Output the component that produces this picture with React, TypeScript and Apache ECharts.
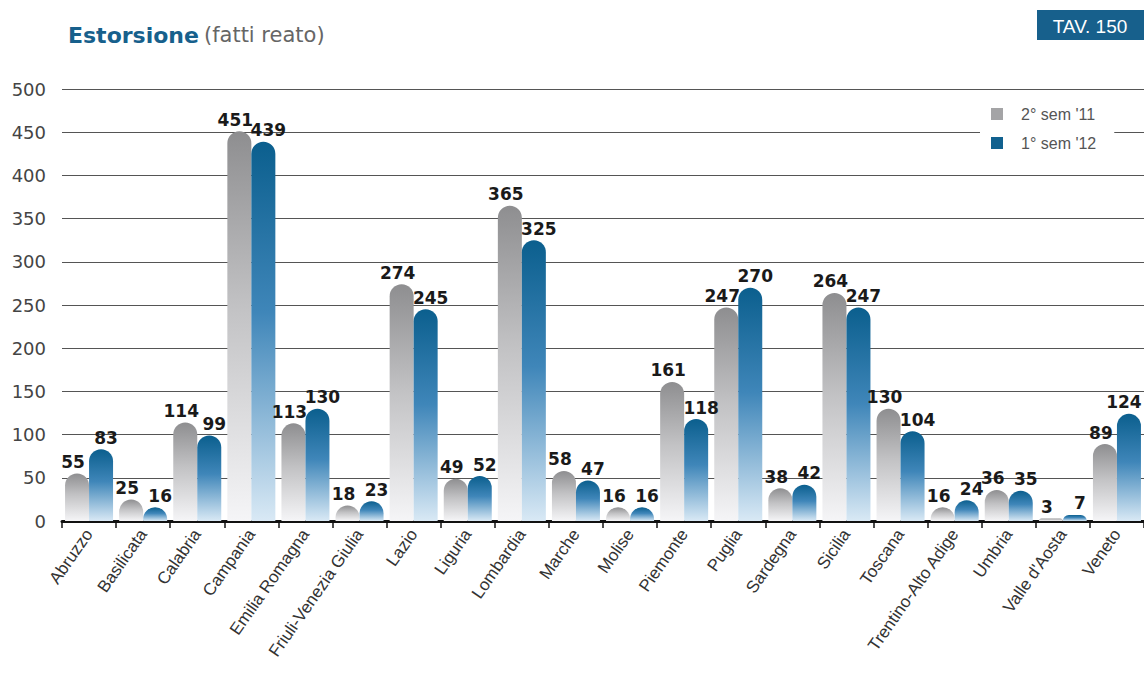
import React, { useEffect, useRef } from "react";
import * as echarts from "echarts";

const categories = [
  "Abruzzo", "Basilicata", "Calabria", "Campania", "Emilia Romagna",
  "Friuli-Venezia Giulia", "Lazio", "Liguria", "Lombardia", "Marche",
  "Molise", "Piemonte", "Puglia", "Sardegna", "Sicilia", "Toscana",
  "Trentino-Alto Adige", "Umbria", "Valle d'Aosta", "Veneto",
];
const sem2_11 = [55, 25, 114, 451, 113, 18, 274, 49, 365, 58, 16, 161, 247, 38, 264, 130, 16, 36, 3, 89];
const sem1_12 = [83, 16, 99, 439, 130, 23, 245, 52, 325, 47, 16, 118, 270, 42, 247, 104, 24, 35, 7, 124];
const seriesNames = ["2° sem '11", "1° sem '12"];

export default function App() {
  const ref = useRef<HTMLDivElement>(null);
  useEffect(() => {
    if (!ref.current) return;
    const chart = echarts.init(ref.current, null, { renderer: "svg" });
    const grayGrad = new echarts.graphic.LinearGradient(0, 0, 0, 1, [
      { offset: 0, color: "#8e8e90" },
      { offset: 0.45, color: "#c2c2c4" },
      { offset: 1, color: "#f5f5f7" },
    ]);
    const blueGrad = new echarts.graphic.LinearGradient(0, 0, 0, 1, [
      { offset: 0, color: "#0b5f8e" },
      { offset: 0.45, color: "#3f86b9" },
      { offset: 1, color: "#d9e9f5" },
    ]);
    const labelStyle = (dx: number) => ({
      show: true,
      position: "top" as const,
      distance: 3,
      offset: [dx, 0],
      color: "#1a1a1a",
      fontFamily: "DejaVu Sans, sans-serif",
      fontWeight: "bold" as const,
      fontSize: 17,
    });
    const sans = "Liberation Sans, Arial, sans-serif";
    const last = categories.length - 1;
    const blueData = sem1_12.map((v, i) =>
      i === last ? { value: v, label: { offset: [-5, 0] } } : v
    );
    chart.setOption({
      animation: false,
      backgroundColor: "#ffffff",
      title: {
        left: 63,
        top: 19,
        text: "{a|Estorsione} {b|(fatti reato)}",
        textStyle: {
          rich: {
            a: { fontFamily: "DejaVu Sans, sans-serif", fontWeight: "bold", fontSize: 22, color: "#17608c" },
            b: { fontFamily: "DejaVu Sans, sans-serif", fontWeight: "normal", fontSize: 21, color: "#666666" },
          },
        },
      },
      graphic: [
        { type: "rect", shape: { x: 1037, y: 10, width: 107, height: 30 }, style: { fill: "#17608c" } },
        {
          type: "text", x: 1090, y: 26,
          style: { text: "TAV. 150", fill: "#ffffff", fontSize: 19, fontFamily: sans, align: "center", verticalAlign: "middle" },
        },
      ],
      legend: {
        orient: "vertical",
        left: 980,
        top: 98,
        itemWidth: 12,
        itemHeight: 12,
        itemGap: 13,
        padding: [8, 18, 8, 11],
        backgroundColor: "#ffffff",
        icon: "rect",
        textStyle: { fontSize: 16, color: "#555555", fontFamily: sans, padding: [0, 0, 0, 13] },
        data: [
          { name: seriesNames[0], itemStyle: { color: "#a4a4a6" } },
          { name: seriesNames[1], itemStyle: { color: "#11618f" } },
        ],
      },
      grid: { left: 62, right: -2, top: 89, bottom: 165, containLabel: false },
      xAxis: {
        type: "category",
        data: categories,
        axisLine: { lineStyle: { color: "#111111", width: 3 } },
        axisTick: { show: true, length: 7, lineStyle: { color: "#111111", width: 1.5 } },
        axisLabel: {
          rotate: 55,
          interval: 0,
          margin: 10,
          fontSize: 17,
          color: "#333333",
          fontFamily: sans,
        },
      },
      yAxis: {
        type: "value",
        min: 0,
        max: 500,
        interval: 50,
        axisLine: { show: false },
        axisTick: { show: false },
        axisLabel: { fontSize: 18, color: "#444444", margin: 16, fontFamily: "DejaVu Sans, sans-serif" },
        splitLine: { lineStyle: { color: "#555555", width: 1.2 } },
      },
      series: [
        {
          name: seriesNames[0],
          type: "bar",
          data: sem2_11,
          barWidth: 24,
          barGap: "0%",
          itemStyle: { color: grayGrad, borderRadius: [12, 12, 0, 0] },
          label: labelStyle(-4),
          z: 3,
        },
        {
          name: seriesNames[1],
          type: "bar",
          data: blueData,
          barWidth: 24,
          barGap: "0%",
          itemStyle: { color: blueGrad, borderRadius: [12, 12, 0, 0] },
          label: labelStyle(5),
          z: 3,
        },
      ],
    });
    return () => chart.dispose();
  }, []);
  return (
    <div
      ref={ref}
      style={{ position: "absolute", left: 0, top: 0, width: 1144, height: 686 }}
    />
  );
}
